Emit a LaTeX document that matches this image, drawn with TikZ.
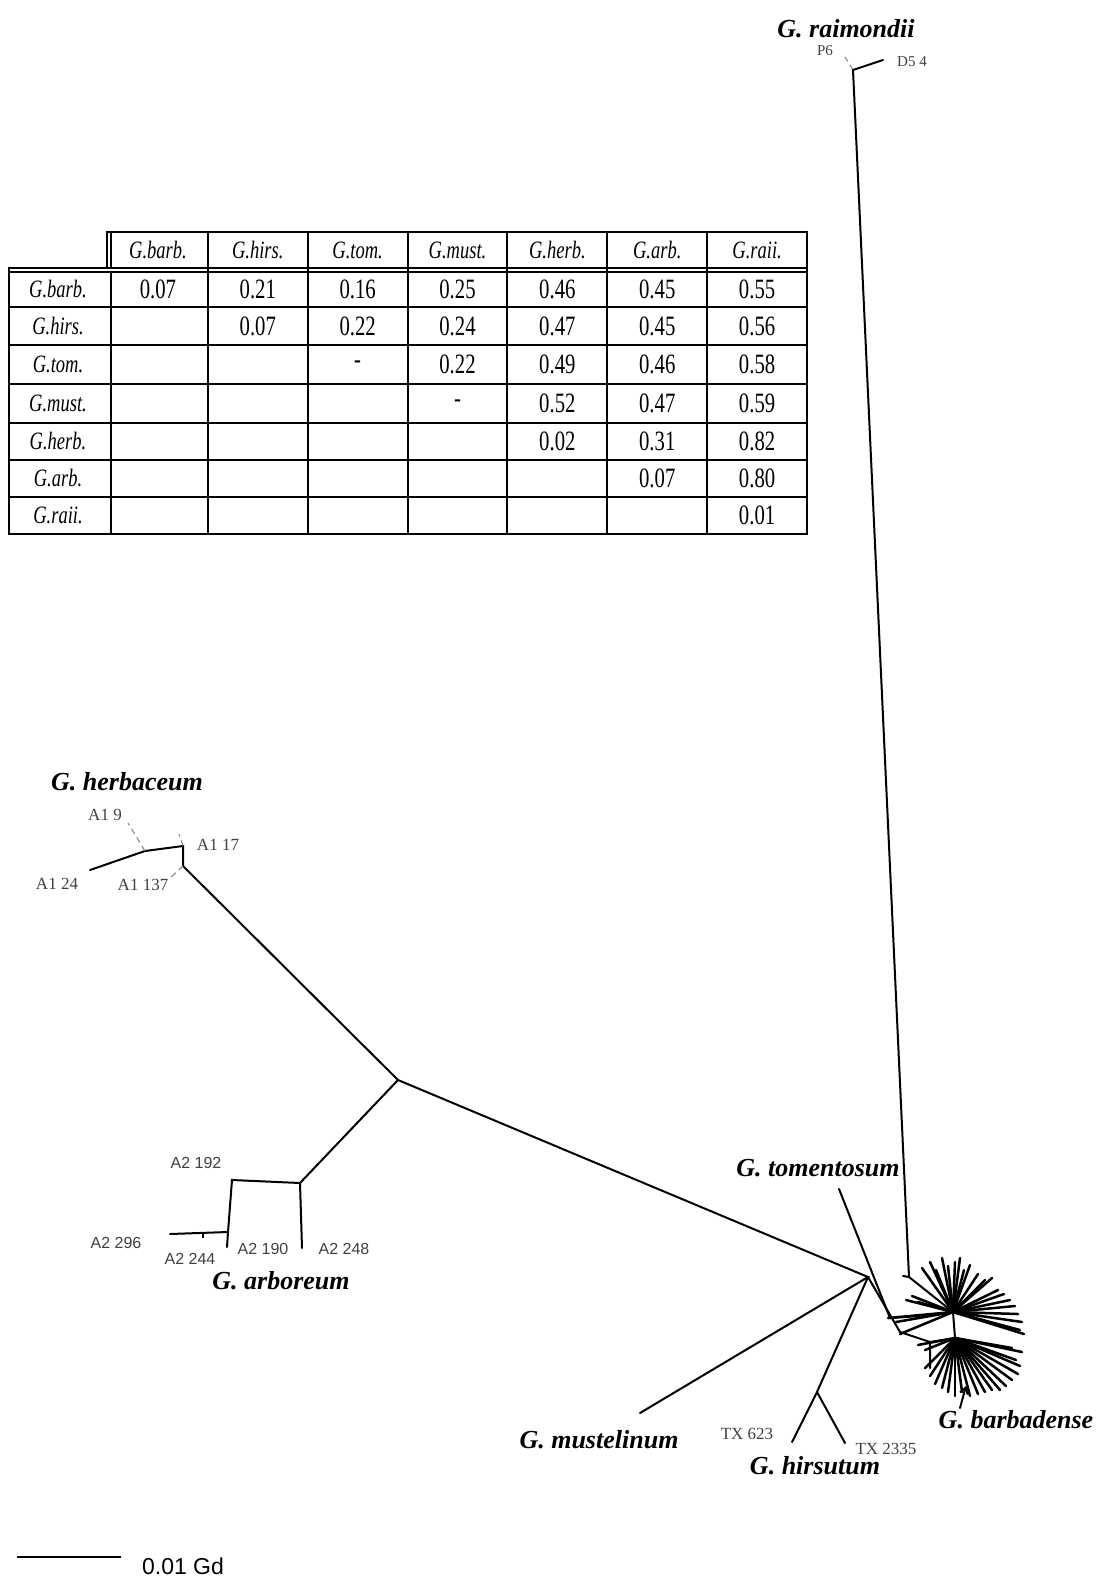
\documentclass[tikz,border=0pt]{standalone}
\usepackage{fontspec}
\setmainfont{Liberation Serif}
\newfontfamily\tabfont[FakeStretch=0.74]{Liberation Serif}
\newfontfamily\labfont{Liberation Sans}
\usepackage{tikz}
\usetikzlibrary{arrows.meta}

\begin{document}
\begin{tikzpicture}[
  x=0.5pt, y=-0.5pt,
  branch/.style={line width=1pt, line cap=round},
  spike/.style={line width=1.25pt, line cap=round},
  twig/.style={line width=0.5pt, gray, densely dashed},
  sp/.style={font=\fontsize{13}{15}\selectfont\bfseries\itshape},
  tag/.style={font=\fontsize{8.5}{10}\selectfont, text=black!75},
  atag/.style={font=\labfont\fontsize{8}{10}\selectfont, text=black!75},
  head/.style={font=\tabfont\itshape\fontsize{12.5}{14}\selectfont},
  num/.style={font=\tabfont\fontsize{14}{16}\selectfont},
  grid/.style={line width=0.6pt},
  frame/.style={line width=0.9pt}
]
\useasboundingbox (0,0) rectangle (1099,1578);

% distance table
\draw[frame] (107,232) rectangle (807,268);
\draw[frame] (9,268) rectangle (807,534);
\draw[grid] (111,232) -- (111,268);
\draw[grid] (9,272) -- (807,272);
\draw[grid] (111,272) -- (111,534);
\foreach \y in {307,345,384,423,460,497}
  \draw[grid] (9,\y) -- (807,\y);
\foreach \x in {208,308,408,507,607,707}
  \draw[grid] (\x,232) -- (\x,534);

\foreach \t [count=\i] in {G.barb.,G.hirs.,G.tom.,G.must.,G.herb.,G.arb.,G.raii.} {
  \node[head] (col\i) at ({108+99.86*(\i-0.5)},250) {\t};
}
\foreach \t/\y [count=\i] in {G.barb./289.5,G.hirs./326,G.tom./364.5,G.must./403.5,
    G.herb./441.5,G.arb./478.5,G.raii./515.5} {
  \node[head] (row\i) at (58,\y) {\t};
}
\foreach \vals/\y [count=\r] in {{0.07,0.21,0.16,0.25,0.46,0.45,0.55}/289.5,
    {0.07,0.22,0.24,0.47,0.45,0.56}/326, {-,0.22,0.49,0.46,0.58}/364.5,
    {-,0.52,0.47,0.59}/403.5, {0.02,0.31,0.82}/441.5, {0.07,0.80}/478.5,
    {0.01}/515.5} {
  \foreach \v [count=\c from \r] in \vals
    \node[num] (v\r\c) at ({108+99.86*(\c-0.5)},\y) {\v};
}

% G. raimondii
\coordinate (rai) at (853,70);
\coordinate (p6) at (845,57);
\coordinate (d54) at (883,60);
\coordinate (raiend) at (909,1277);
\node[sp] (raiL) at (846,29) {G. raimondii};
\node[tag, font=\fontsize{7.5}{9}\selectfont] (p6L) at (825,51) {P6};
\node[tag, font=\fontsize{7.5}{9}\selectfont] (d54L) at (912,62) {D5 4};
\draw[twig] (rai) -- (p6);
\draw[branch] (rai) -- (d54);
\draw[branch] (rai) -- (raiend);

% G. herbaceum
\coordinate (int) at (398,1080);
\coordinate (herb) at (183,866);
\coordinate (h1) at (183,846);
\coordinate (h2) at (145,851);
\coordinate (a124) at (90,870);
\coordinate (a19) at (128,823);
\coordinate (a117) at (179,834);
\coordinate (a1137) at (170,878);
\node[sp] (herbL) at (127,782) {G. herbaceum};
\node[tag] (a19L) at (105,815) {A1 9};
\node[tag] (a117L) at (218,845) {A1 17};
\node[tag] (a124L) at (57,884) {A1 24};
\node[tag] (a1137L) at (143,885) {A1 137};
\draw[branch] (int) -- (herb) -- (h1) -- (h2) -- (a124);
\draw[twig] (h2) -- (a19);
\draw[twig] (h1) -- (a117);
\draw[twig] (herb) -- (a1137);

% G. arboreum
\coordinate (arb) at (300,1183);
\coordinate (a248) at (302,1248);
\coordinate (a192) at (232,1180);
\coordinate (a2low) at (228,1232);
\coordinate (a190) at (227,1247);
\coordinate (a296) at (170,1234);
\coordinate (a244) at (203,1233);
\node[atag] (a192L) at (196,1163) {A2 192};
\node[atag] (a296L) at (116,1243) {A2 296};
\node[atag] (a244L) at (190,1259) {A2 244};
\node[atag] (a190L) at (263,1249) {A2 190};
\node[atag] (a248L) at (344,1249) {A2 248};
\node[sp] (arbL) at (281,1281) {G. arboreum};
\draw[branch] (int) -- (arb) -- (a248);
\draw[branch] (arb) -- (a192) -- (a2low) -- (a296);
\draw[branch] (a2low) -- (a190);
\draw[line width=0.8pt] (a244) -- ++(0,5);
\fill (a192) circle (1.5);

% G. hirsutum, G. mustelinum, G. tomentosum
\coordinate (hub) at (868,1277);
\coordinate (must) at (640,1413);
\coordinate (hirs) at (817,1392);
\coordinate (tx623) at (792,1442);
\coordinate (tx2335) at (845,1443);
\coordinate (tom) at (839,1189);
\coordinate (tomj) at (890,1318);
\coordinate (barj) at (900,1332);
\coordinate (barj2) at (930,1342);
\node[sp] (mustL) at (599,1440) {G. mustelinum};
\node[sp] (hirsL) at (815,1466) {G. hirsutum};
\node[tag] (tx623L) at (747,1434) {TX 623};
\node[tag] (tx2335L) at (886,1449) {TX 2335};
\node[sp] (tomL) at (818,1168) {G. tomentosum};
\draw[branch] (int) -- (hub) -- (must);
\draw[branch] (hub) -- (hirs) -- (tx623);
\draw[branch] (hirs) -- (tx2335);
\draw[branch] (tom) -- (tomj) -- (920,1316);
\draw[branch] (hub) -- (barj) -- (barj2) -- (930,1368);

% G. barbadense
\coordinate (bc1) at (953,1312);
\coordinate (bc2) at (955,1338);
\node[sp] (barbL) at (1016,1420) {G. barbadense};
\draw[branch] (raiend) -- (903,1276);
\draw[branch] (raiend) -- (bc1) -- (bc2);
\draw[branch] (barj2) -- (bc2);
\foreach \x/\y in {922/1268, 930/1262, 936/1270, 942/1258, 948/1266, 955/1262,
    960/1258, 964/1270, 970/1265, 978/1274, 985/1280, 992/1278, 998/1290,
    1004/1294, 1010/1300, 1015/1306, 1018/1314, 1022/1322, 1020/1330,
    1024/1334, 912/1296, 918/1302, 906/1300, 888/1318, 896/1322, 900/1334}
  \draw[spike] (bc1) -- (\x,\y);
\foreach \x/\y in {925/1368, 930/1376, 935/1384, 942/1388, 948/1392, 955/1396,
    962/1392, 970/1396, 978/1394, 985/1392, 992/1390, 1000/1390, 1006/1386,
    1012/1380, 1018/1374, 1020/1366, 1016/1360, 1022/1352, 1012/1348,
    925/1350, 918/1345}
  \draw[spike] (bc2) -- (\x,\y);
\coordinate (barbtail) at (960,1408);
\coordinate (barbtip) at (966,1386);
\draw[branch, -{Straight Barb[length=3pt, width=4pt]}] (barbtail) -- (barbtip);

% scale bar
\coordinate (sb1) at (17,1557);
\coordinate (sb2) at (121,1557);
\draw[line width=0.9pt] (sb1) -- (sb2);
\node[font=\labfont\fontsize{11.5}{13}\selectfont] (sbL) at (183,1566) {0.01 Gd};
\end{tikzpicture}
\end{document}
